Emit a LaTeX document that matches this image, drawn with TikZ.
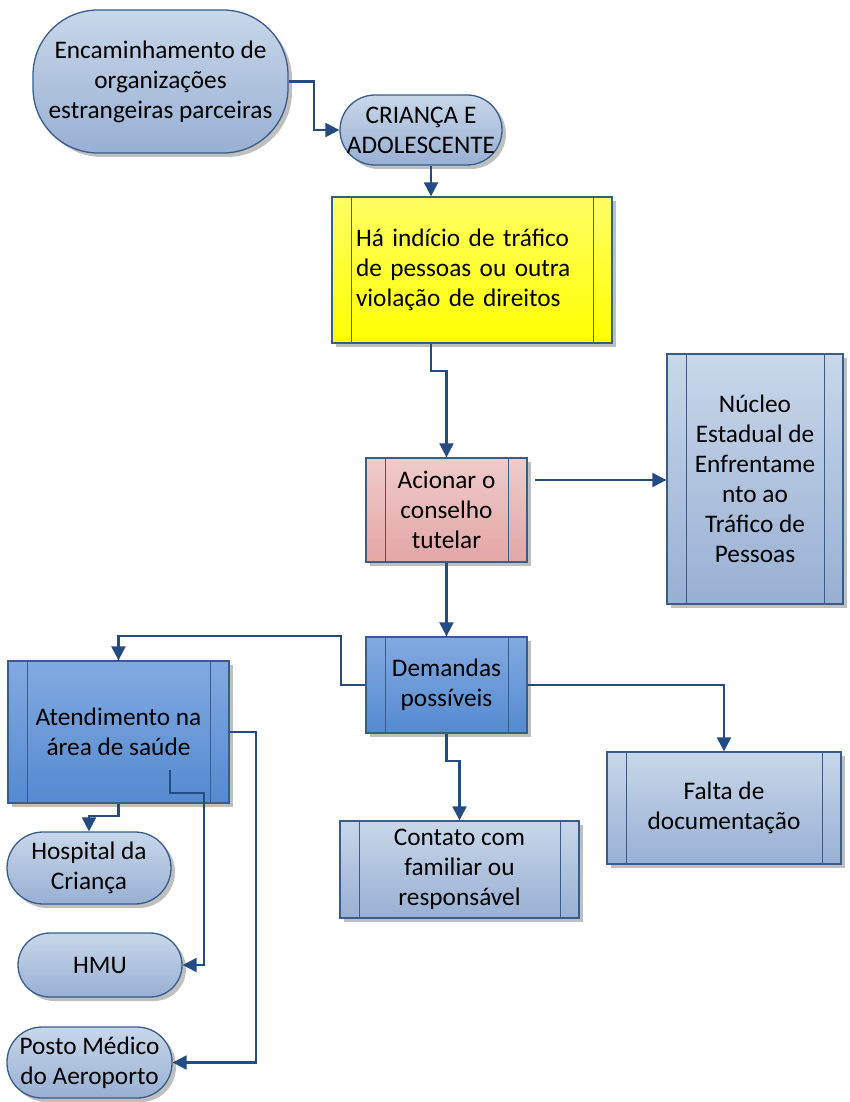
\documentclass[tikz,border=0pt]{standalone}
\usepackage{fontspec}
\setmainfont{Carlito}
\usetikzlibrary{arrows.meta,shadows,calc}
\definecolor{bordc}{RGB}{56,93,138}
\definecolor{connc}{RGB}{36,76,130}
\definecolor{lbT}{RGB}{200,215,234}
\definecolor{lbB}{RGB}{152,176,211}
\definecolor{mbT}{RGB}{130,170,224}
\definecolor{mbB}{RGB}{84,138,208}
\definecolor{pkT}{RGB}{238,204,203}
\definecolor{pkB}{RGB}{227,166,165}
\definecolor{ylT}{RGB}{255,255,100}
\definecolor{ylB}{RGB}{255,255,0}
\tikzset{
  base/.style={draw=bordc, line width=1.3pt, font=\fontsize{25.3}{30}\selectfont, align=center, inner sep=2pt,
    drop shadow={shadow xshift=4pt, shadow yshift=-4pt, fill=black, opacity=0.25}},
  stadium/.style={base, rounded corners=#1, top color=lbT, bottom color=lbB},
  proc/.style={base, path picture={
     \draw[bordc, line width=1pt] ([xshift=19pt]path picture bounding box.north west) -- ([xshift=19pt]path picture bounding box.south west);
     \draw[bordc, line width=1pt] ([xshift=-19pt]path picture bounding box.north east) -- ([xshift=-19pt]path picture bounding box.south east);}},
  lightproc/.style={proc, top color=lbT, bottom color=lbB},
  midproc/.style={proc, top color=mbT, bottom color=mbB},
  conn/.style={draw=connc, line width=2.2pt, -{Triangle[length=14pt,width=14pt]}},
}
\begin{document}
\begin{tikzpicture}[x=1pt,y=-1pt]
\useasboundingbox (0,0) rectangle (849,1102);
% stadium nodes
\node[stadium=65pt, minimum width=255pt, minimum height=143pt] (enc) at (160.5,81.5) {Encaminhamento de\\organizações\\estrangeiras parceiras};
\node[stadium=35pt, minimum width=162pt, minimum height=70pt] (cri) at (421,130) {CRIANÇA E\\ADOLESCENTE};
\node[stadium=36pt, minimum width=164pt, minimum height=72pt] (hos) at (89,868) {Hospital da\\Criança};
\node[stadium=32pt, minimum width=164pt, minimum height=64pt] (hmu) at (100,965) {HMU};
\node[stadium=35pt, minimum width=165pt, minimum height=71pt] (pos) at (89.5,1062.5) {Posto Médico\\do Aeroporto};
% process boxes
\node[proc, top color=ylT, bottom color=ylB, minimum height=146pt, text width=232pt, inner xsep=24pt, align=left] (yel) at (472,270) {Há indício de tráfico\\de pessoas ou outra\\violação de direitos};
\node[proc, top color=pkT, bottom color=pkB, minimum width=161pt, minimum height=104pt] (aci) at (446.5,510) {Acionar o\\conselho\\tutelar};
\node[lightproc, minimum width=176pt, minimum height=250pt] (nuc) at (755,479) {Núcleo\\Estadual de\\Enfrentame\\nto ao\\Tráfico de\\Pessoas};
\node[midproc, minimum width=161pt, minimum height=96pt] (dem) at (446.5,685) {Demandas\\possíveis};
\node[midproc, minimum width=221pt, minimum height=142pt] (atd) at (118.5,732) {Atendimento na\\área de saúde};
\node[lightproc, minimum width=239pt, minimum height=97pt] (con) at (459.5,869.5) {Contato com\\familiar ou\\responsável};
\node[lightproc, minimum width=234pt, minimum height=112pt] (fal) at (724,808) {Falta de\\documentação};
% connectors
\draw[conn] (enc.east) -- ++(25,0) |- (cri.west);
\draw[conn] ([xshift=10pt]cri.south) -- ([xshift=10pt]cri.south |- yel.north);
\draw[conn] ([xshift=-41pt]yel.south) -- ++(0,27) -| (aci.north);
\coordinate (c4s) at (535,480);
\draw[conn] (c4s) -- (c4s -| nuc.west);
\draw[conn] (aci.south) -- (dem.north);
\draw[conn] (dem.west) -- ++(-24,0) |- ($(atd.north)+(0,-24)$) -- (atd.north);
\draw[conn] (dem.south) -- ++(0,27) -| (con.north);
\draw[conn] (dem.east) -| (fal.north);
\draw[conn] (atd.south) -- ++(0,12) -| (hos.north);
\coordinate (c10s) at (170,770);
\coordinate (c10b) at (204,793);
\draw[conn] (c10s) |- (c10b) |- (hmu.east);
\draw[conn] (atd.east) -- ++(26,0) |- (pos.east);
\end{tikzpicture}
\end{document}
